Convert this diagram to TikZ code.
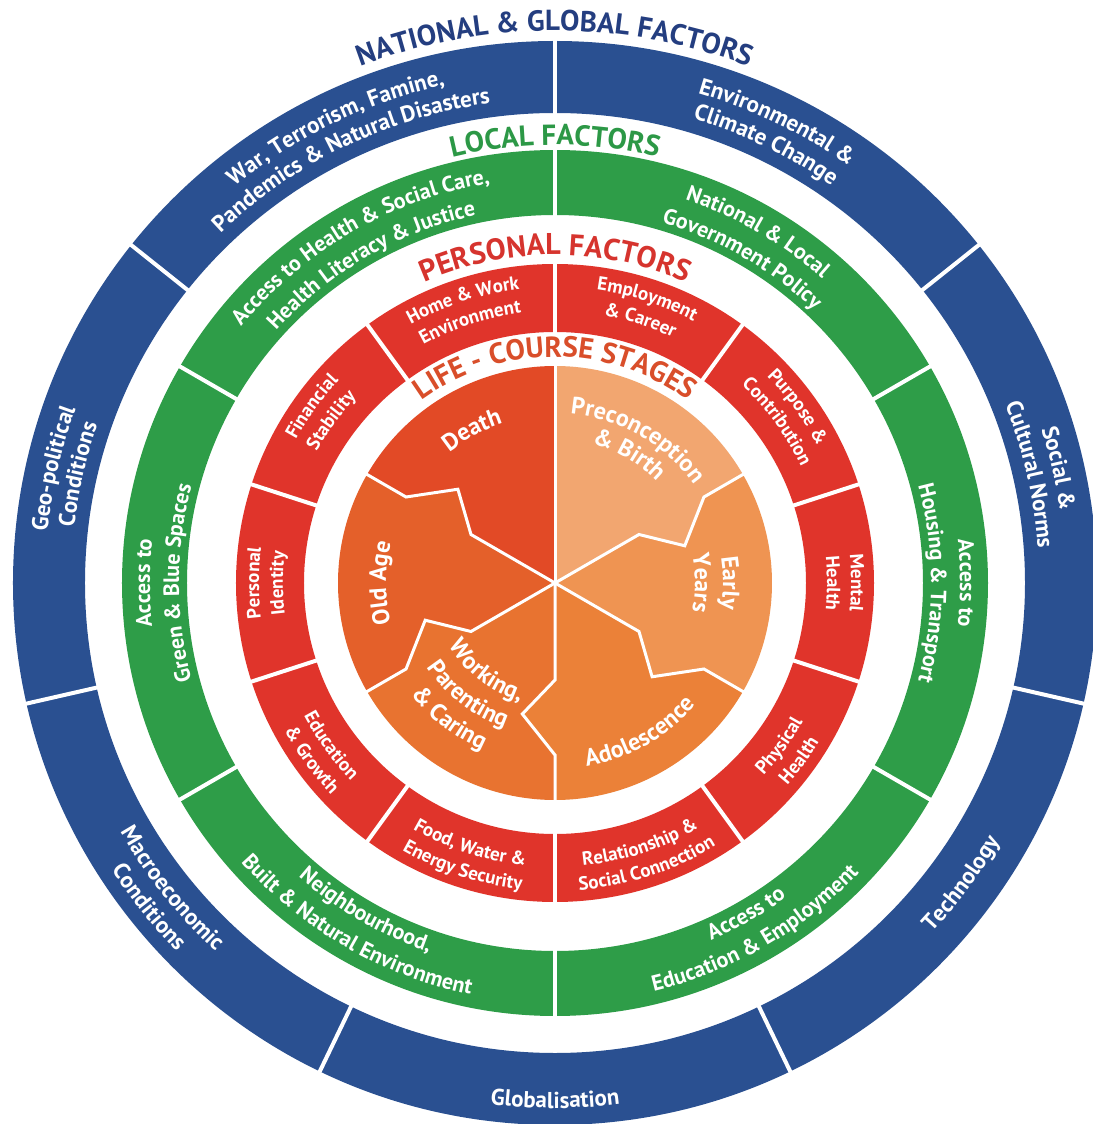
\documentclass[tikz,border=0pt]{standalone}
\usepackage{fontspec}
\setmainfont{PT Sans}
\usetikzlibrary{decorations.text}

\definecolor{natblue}{RGB}{42,80,145}
\definecolor{nattitle}{RGB}{36,62,128}
\definecolor{locgreen}{RGB}{46,157,72}
\definecolor{loctitle}{RGB}{44,152,70}
\definecolor{perred}{RGB}{224,52,43}
\definecolor{pertitle}{RGB}{214,52,46}
\definecolor{lifetitle}{RGB}{217,78,42}
\definecolor{stdeath}{RGB}{226,74,38}
\definecolor{stold}{RGB}{228,96,42}
\definecolor{stwork}{RGB}{232,115,48}
\definecolor{stadol}{RGB}{235,129,56}
\definecolor{stearly}{RGB}{239,148,82}
\definecolor{stbirth}{RGB}{242,166,112}

% text on an arc: radius, mid angle, size, colour, text
\newcommand{\cwtext}[5]{%
  \path[decorate,decoration={text along path,text align=center,text color=#4,
    text={|\fontsize{#3}{#3}\selectfont\bfseries|#5}}]
    (#2+70:#1) arc[start angle=#2+70,end angle=#2-70,radius=#1];}
\newcommand{\ccwtext}[5]{%
  \path[decorate,decoration={text along path,text align=center,text color=#4,
    text={|\fontsize{#3}{#3}\selectfont\bfseries|#5}}]
    (#2-70:#1) arc[start angle=#2-70,end angle=#2+70,radius=#1];}

\begin{document}
\begin{tikzpicture}[x=1pt,y=1pt]
\useasboundingbox[fill=white] (-555,-541) rectangle (537,583);

% national & global factors
\fill[natblue,even odd rule] (0,0) circle[radius=542] circle[radius=470];
\foreach \k in {0,...,6} {
\draw[white,line width=4] (90+\k*360/7:466) -- (90+\k*360/7:546);
}
% local factors
\fill[locgreen,even odd rule] (0,0) circle[radius=433] circle[radius=368];
\foreach \a in {30,90,...,330} {
\draw[white,line width=4] (\a:365) -- (\a:436);
}
% personal factors
\fill[perred,even odd rule] (0,0) circle[radius=319] circle[radius=251];
\foreach \a in {18,54,...,342} {
\draw[white,line width=4] (\a:248) -- (\a:322);
}

% life-course stages
\fill[stbirth] (0,0) -- (30:97) -- (16:135) -- (30:172) -- (30:217) arc[start angle=30,end angle=90,radius=217] -- cycle;
\fill[stdeath] (0,0) -- (90:217) arc[start angle=90,end angle=150,radius=217] -- (150:172) -- (136:135) -- (150:97) -- cycle;
\fill[stold] (0,0) -- (150:97) -- (136:135) -- (150:172) -- (150:217) arc[start angle=150,end angle=210,radius=217] -- (210:172) -- (196:135) -- (210:97) -- cycle;
\fill[stwork] (0,0) -- (210:97) -- (196:135) -- (210:172) -- (210:217) arc[start angle=210,end angle=270,radius=217] -- (270:172) -- (256:135) -- (270:97) -- cycle;
\fill[stadol] (0,0) -- (270:97) -- (256:135) -- (270:172) -- (270:217) arc[start angle=270,end angle=330,radius=217] -- (330:172) -- (316:135) -- (330:97) -- cycle;
\fill[stearly] (0,0) -- (-30:97) -- (-44:135) -- (-30:172) -- (-30:217) arc[start angle=-30,end angle=30,radius=217] -- (30:172) -- (16:135) -- (30:97) -- cycle;
\draw[white,line width=3] (0,0) -- (90:218);
\foreach \t in {30,150,210,270,330} {
\draw[white,line width=3] (0,0) -- (\t:97) -- (\t-14:135) -- (\t:172) -- (\t:218);
}

% titles
\cwtext{552}{90}{29}{nattitle}{NATIONAL {\&} GLOBAL FACTORS}
\cwtext{438}{90}{29}{loctitle}{LOCAL FACTORS}
\cwtext{328}{90}{30}{pertitle}{PERSONAL FACTORS}
\cwtext{226}{90}{29}{lifetitle}{LIFE - COURSE STAGES}

% outer ring labels
\cwtext{510}{115.7}{23}{white}{War, Terrorism, Famine,}
\cwtext{484}{115.7}{23}{white}{Pandemics {\&} Natural Disasters}
\cwtext{510}{64.3}{23}{white}{Environmental {\&}}
\cwtext{484}{64.3}{23}{white}{Climate Change}
\cwtext{510}{12.86}{23}{white}{Social {\&}}
\cwtext{484}{12.86}{23}{white}{Cultural Norms}
\ccwtext{514}{-36.5}{23}{white}{Technology}
\ccwtext{525}{-90}{23}{white}{Globalisation}
\ccwtext{501}{-141.43}{23}{white}{Macroeconomic}
\ccwtext{528}{-141.43}{23}{white}{Conditions}
\cwtext{510}{167.14}{23}{white}{Geo-political}
\cwtext{484}{167.14}{23}{white}{Conditions}

% green ring labels
\cwtext{405}{120}{22}{white}{Access to Health {\&} Social Care,}
\cwtext{376}{120}{22}{white}{Health Literacy {\&} Justice}
\cwtext{405}{60}{22}{white}{National {\&} Local}
\cwtext{376}{60}{22}{white}{Government Policy}
\cwtext{405}{0}{22}{white}{Access to}
\cwtext{376}{0}{22}{white}{Housing {\&} Transport}
\ccwtext{390}{-60}{22}{white}{Access to}
\ccwtext{420}{-60}{22}{white}{Education {\&} Employment}
\ccwtext{390}{-120}{22}{white}{Neighbourhood,}
\ccwtext{420}{-120}{22}{white}{Built {\&} Natural Environment}
\cwtext{405}{180}{22}{white}{Access to}
\cwtext{376}{180}{22}{white}{Green {\&} Blue Spaces}

% red ring labels
\cwtext{296}{108}{19}{white}{Home {\&} Work}
\cwtext{272}{108}{19}{white}{Environment}
\cwtext{296}{72}{19}{white}{Employment}
\cwtext{272}{72}{19}{white}{{\&} Career}
\cwtext{296}{36}{19}{white}{Purpose {\&}}
\cwtext{272}{36}{19}{white}{Contribution}
\cwtext{296}{0}{19}{white}{Mental}
\cwtext{272}{0}{19}{white}{Health}
\ccwtext{284}{-36}{19}{white}{Physical}
\ccwtext{308}{-36}{19}{white}{Health}
\ccwtext{284}{-72}{19}{white}{Relationship {\&}}
\ccwtext{308}{-72}{19}{white}{Social Connection}
\ccwtext{284}{-108}{19}{white}{Food, Water {\&}}
\ccwtext{308}{-108}{19}{white}{Energy Security}
\ccwtext{284}{-144}{19}{white}{Education}
\ccwtext{308}{-144}{19}{white}{{\&} Growth}
\cwtext{296}{180}{19}{white}{Personal}
\cwtext{272}{180}{19}{white}{Identity}
\cwtext{296}{144}{19}{white}{Financial}
\cwtext{272}{144}{19}{white}{Stability}

% stage labels
\cwtext{168}{118.5}{24}{white}{Death}
\cwtext{170}{60}{24}{white}{Preconception}
\cwtext{144}{60}{24}{white}{{\&} Birth}
\cwtext{168}{0}{24}{white}{Early}
\cwtext{140}{0}{24}{white}{Years}
\ccwtext{186}{-60.5}{24}{white}{Adolescence}
\ccwtext{123}{-128}{24}{white}{Working,}
\ccwtext{153}{-128}{24}{white}{Parenting}
\ccwtext{182}{-128}{24}{white}{{\&} Caring}
\cwtext{169}{180}{24}{white}{Old Age}
\end{tikzpicture}
\end{document}
